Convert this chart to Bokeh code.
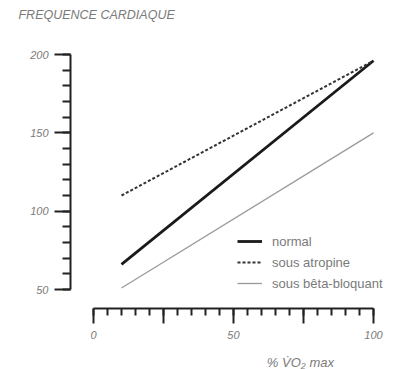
from bokeh.plotting import figure
from bokeh.models import FixedTicker, Range1d, Legend, LegendItem, Label
from bokeh.embed import file_html
from bokeh.resources import INLINE

# data
x_pct = [10, 100]
normal = [66, 196]
atropine = [110, 196]
beta = [51, 150]

x_major = [0, 25, 50, 75, 100]
x_minor = list(range(0, 101, 5))
y_major = [50, 100, 150, 200]
y_minor = list(range(50, 201, 10))

FONT = "Liberation Sans"
GRAY = "#7a7a7a"

p = figure(width=395, height=369, output_backend="svg", toolbar_location=None,
           x_range=Range1d(-33.21, 107.86), y_range=Range1d(-1.06, 234.47),
           min_border=0)
p.outline_line_color = None
p.grid.visible = False
p.background_fill_color = "white"
p.border_fill_color = "white"

r1 = p.line(x_pct, normal, line_color="#1a1a1a", line_width=2.8)
r2 = p.line(x_pct, atropine, line_color="#333333", line_width=2, line_dash="3 2")
r3 = p.line(x_pct, beta, line_color="#9a9a9a", line_width=1.3)

for ax in (p.xaxis[0], p.yaxis[0]):
    ax.axis_line_width = 2
    ax.axis_line_color = "#222222"
    ax.major_tick_line_width = 2
    ax.minor_tick_line_width = 2
    ax.major_tick_line_color = "#222222"
    ax.minor_tick_line_color = "#222222"
    ax.major_tick_in = 0
    ax.minor_tick_in = 0
    ax.major_label_text_font = FONT
    ax.major_label_text_font_style = "italic"
    ax.major_label_text_font_size = "11px"
    ax.major_label_text_color = GRAY

xa = p.xaxis[0]
xa.ticker = FixedTicker(ticks=x_major, minor_ticks=x_minor)
xa.bounds = (0, 100)
xa.fixed_location = 37.87
xa.major_tick_out = 15
xa.minor_tick_out = 7
xa.major_label_standoff = 7
xa.major_label_overrides = {25: "", 75: ""}

ya = p.yaxis[0]
ya.ticker = FixedTicker(ticks=y_major, minor_ticks=y_minor)
ya.bounds = (50, 200)
ya.fixed_location = -8.21
ya.major_tick_out = 16
ya.minor_tick_out = 8
ya.major_label_standoff = 6

legend = Legend(items=[LegendItem(label="normal", renderers=[r1]),
                       LegendItem(label="sous atropine", renderers=[r2]),
                       LegendItem(label="sous bêta-bloquant", renderers=[r3])],
                location=(237, 76), padding=0, margin=0, spacing=1,
                glyph_width=25, glyph_height=20, label_height=20,
                label_standoff=10, border_line_color=None, background_fill_alpha=0,
                label_text_font=FONT, label_text_font_size="13px", label_text_color=GRAY)
p.add_layout(legend, "center")

p.add_layout(Label(x=-26.79, y=224.9, text="FREQUENCE CARDIAQUE", text_font=FONT,
                   text_font_style="italic", text_font_size="12.5px", text_color=GRAY,
                   text_baseline="middle", text_align="left"))

p.add_layout(Label(x=73.9, y=3.4, text="% V̇O₂ max", text_font=FONT,
                   text_font_style="italic", text_font_size="13px", text_color=GRAY,
                   text_baseline="middle", text_align="center"))

open("out.html", "w").write(file_html(p, INLINE))
